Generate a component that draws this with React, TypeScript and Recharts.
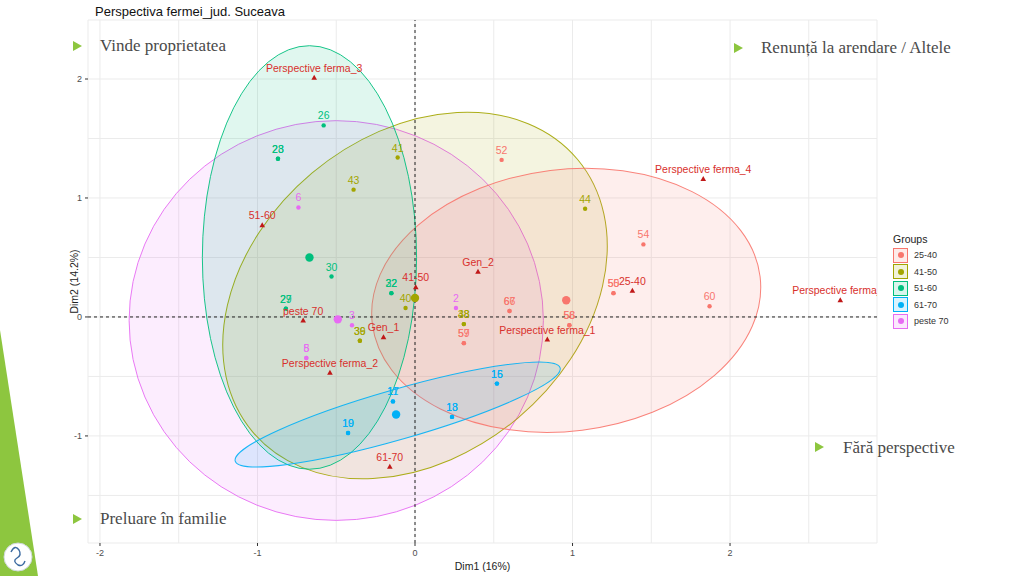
import React from "react";
import {
  ScatterChart,
  Scatter,
  XAxis,
  YAxis,
  CartesianGrid,
  ReferenceLine,
  ReferenceArea,
  Label,
} from "recharts";

const FONT = '"Liberation Sans", Arial, sans-serif';
const SERIF = '"Liberation Serif", "Times New Roman", serif';

const groups = ["25-40", "41-50", "51-60", "61-70", "peste 70"];
const groupColors: Record<string, string> = {
  "25-40": "#F8766D",
  "41-50": "#A3A500",
  "51-60": "#00BF7D",
  "61-70": "#00B0F6",
  "peste 70": "#E76BF3",
};

// individuals (Dim1, Dim2), some overlap exactly
const ind2540 = [
  { label: "52", x: 0.55, y: 1.32 },
  { label: "54", x: 1.45, y: 0.61 },
  { label: "50", x: 1.26, y: 0.2 },
  { label: "55", x: 1.26, y: 0.2 },
  { label: "60", x: 1.87, y: 0.09 },
  { label: "66", x: 0.6, y: 0.05 },
  { label: "67", x: 0.6, y: 0.05 },
  { label: "56", x: 0.98, y: -0.07 },
  { label: "58", x: 0.98, y: -0.07 },
  { label: "57", x: 0.31, y: -0.22 },
  { label: "59", x: 0.31, y: -0.22 },
];
const ind4150 = [
  { label: "41", x: -0.11, y: 1.34 },
  { label: "43", x: -0.39, y: 1.07 },
  { label: "44", x: 1.08, y: 0.91 },
  { label: "40", x: -0.06, y: 0.075 },
  { label: "38", x: 0.31, y: -0.06 },
  { label: "48", x: 0.31, y: -0.06 },
  { label: "36", x: -0.35, y: -0.2 },
  { label: "39", x: -0.35, y: -0.2 },
];
const ind5160 = [
  { label: "26", x: -0.58, y: 1.61 },
  { label: "28", x: -0.87, y: 1.33 },
  { label: "23", x: -0.87, y: 1.33 },
  { label: "30", x: -0.53, y: 0.34 },
  { label: "22", x: -0.15, y: 0.2 },
  { label: "32", x: -0.15, y: 0.2 },
  { label: "29", x: -0.82, y: 0.07 },
  { label: "27", x: -0.82, y: 0.07 },
];
const ind6170 = [
  { label: "16", x: 0.52, y: -0.56 },
  { label: "15", x: 0.52, y: -0.56 },
  { label: "17", x: -0.14, y: -0.71 },
  { label: "11", x: -0.14, y: -0.71 },
  { label: "18", x: 0.235, y: -0.84 },
  { label: "13", x: 0.235, y: -0.84 },
  { label: "19", x: -0.425, y: -0.975 },
  { label: "10", x: -0.425, y: -0.975 },
];
const indPeste70 = [
  { label: "6", x: -0.74, y: 0.92 },
  { label: "2", x: 0.26, y: 0.075 },
  { label: "3", x: -0.4, y: -0.07 },
  { label: "5", x: -0.69, y: -0.345 },
  { label: "8", x: -0.69, y: -0.345 },
];
const individuals: Record<string, { label: string; x: number; y: number }[]> = {
  "25-40": ind2540,
  "41-50": ind4150,
  "51-60": ind5160,
  "61-70": ind6170,
  "peste 70": indPeste70,
};

// group means
const centroids = [
  { group: "25-40", x: 0.96, y: 0.14 },
  { group: "41-50", x: 0.0, y: 0.16 },
  { group: "51-60", x: -0.67, y: 0.5 },
  { group: "61-70", x: -0.12, y: -0.82 },
  { group: "peste 70", x: -0.49, y: -0.02 },
];

// concentration ellipses: centre, half axes, tilt in degrees
const ellipses = [
  { group: "peste 70", x: -0.5, y: -0.03, rx: 1.315, ry: 1.68, tilt: 0 },
  { group: "41-50", x: 0.0, y: 0.18, rx: 1.346, ry: 1.345, tilt: 40 },
  { group: "25-40", x: 0.96, y: 0.14, rx: 1.24, ry: 1.1, tilt: 7 },
  { group: "51-60", x: -0.67, y: 0.5, rx: 0.68, ry: 1.78, tilt: 0 },
  { group: "61-70", x: -0.11, y: -0.82, rx: 1.073, ry: 0.21, tilt: 16 },
];

// supplementary variable categories
const categories = [
  { label: "Perspective ferma_3", x: -0.64, y: 2.01 },
  { label: "Perspective ferma_4", x: 1.83, y: 1.16 },
  { label: "Perspective ferma_1", x: 0.84, y: -0.19 },
  { label: "Perspective ferma_2", x: -0.54, y: -0.47 },
  { label: "Perspective ferma_5", x: 2.7, y: 0.14 },
  { label: "51-60", x: -0.97, y: 0.77 },
  { label: "41-50", x: 0.005, y: 0.25 },
  { label: "25-40", x: 1.38, y: 0.22 },
  { label: "61-70", x: -0.16, y: -1.26 },
  { label: "peste 70", x: -0.71, y: -0.03 },
  { label: "Gen_1", x: -0.2, y: -0.17 },
  { label: "Gen_2", x: 0.4, y: 0.38 },
];

const xTicks = [-2, -1.5, -1, -0.5, 0, 0.5, 1, 1.5, 2, 2.5];
const yTicks = [-1.5, -1, -0.5, 0, 0.5, 1, 1.5, 2];
const xDomain = [-2.076, 2.933];
const yDomain = [-1.9, 2.496];

const corners = [
  { text: "Vinde proprietatea", x: 100, y: 45, tx: 73, ty: 46 },
  { text: "Renunță la arendare / Altele", x: 761, y: 47, tx: 734, ty: 48 },
  { text: "Fără perspective", x: 843, y: 447, tx: 815, ty: 447 },
  { text: "Preluare în familie", x: 100, y: 518, tx: 73, ty: 519 },
];

const XTick = (props: any) => {
  const { x, y, payload } = props;
  const v = payload.value;
  if (!Number.isInteger(v)) return <g />;
  return (
    <g>
      <line x1={x} x2={x} y1={y - 6} y2={y - 3} stroke="#333" strokeWidth={1} />
      <text x={x} y={y} dy="0.8em" textAnchor="middle" fontSize={9} fill="#4d4d4d" fontFamily={FONT}>
        {v}
      </text>
    </g>
  );
};

const YTick = (props: any) => {
  const { x, y, payload } = props;
  const v = payload.value;
  if (!Number.isInteger(v)) return <g />;
  return (
    <g>
      <line x1={x + 3} x2={x + 6} y1={y} y2={y} stroke="#333" strokeWidth={1} />
      <text x={x} y={y} dy="0.35em" textAnchor="end" fontSize={9} fill="#4d4d4d" fontFamily={FONT}>
        {v}
      </text>
    </g>
  );
};

const ellipseShape = (color: string, tilt: number) => (props: any) => {
  const { x, y, width, height } = props;
  const cx = x + width / 2;
  const cy = y + height / 2;
  return (
    <ellipse
      cx={cx}
      cy={cy}
      rx={Math.abs(width) / 2}
      ry={Math.abs(height) / 2}
      transform={`rotate(${-tilt} ${cx} ${cy})`}
      fill={color}
      fillOpacity={0.12}
      stroke={color}
      strokeOpacity={0.9}
      strokeWidth={1}
    />
  );
};

const pointShape = (color: string) => (props: any) => {
  const { cx, cy, payload } = props;
  return (
    <g>
      <circle cx={cx} cy={cy} r={2.2} fill={color} />
      <text x={cx} y={cy - 6} textAnchor="middle" fontSize={10.5} fill={color} fontFamily={FONT}>
        {payload.label}
      </text>
    </g>
  );
};

const centroidShape = (props: any) => {
  const { cx, cy, payload } = props;
  return <circle cx={cx} cy={cy} r={4.2} fill={groupColors[payload.group]} />;
};

const categoryShape = (props: any) => {
  const { cx, cy, payload } = props;
  return (
    <g>
      <path d={`M${cx},${cy - 3} L${cx + 2.8},${cy + 2} L${cx - 2.8},${cy + 2} Z`} fill="#c01818" />
      <text x={cx} y={cy - 6} textAnchor="middle" fontSize={10.5} fill="#d8302c" fontFamily={FONT}>
        {payload.label}
      </text>
    </g>
  );
};

export default function App() {
  return (
    <div
      style={{
        position: "fixed",
        left: 0,
        top: 0,
        width: 1024,
        height: 576,
        background: "#fff",
        overflow: "hidden",
        fontFamily: FONT,
      }}
    >
      <svg width={1024} height={576} style={{ position: "absolute", left: 0, top: 0 }}>
        <polygon points="0,330 0,576 38,576" fill="#8dc63f" />
        <circle cx={18} cy={557} r={14} fill="#fff" stroke="#cfd8dc" />
        <path d="M11,552 q4,-8 8,-2 q3,5 -2,8 q-5,3 1,7 q5,2 7,-4" fill="none" stroke="#3b6aa0" strokeWidth={1.4} />
      </svg>

      <div style={{ position: "absolute", left: 95, top: 4, fontSize: 13, lineHeight: "16px", color: "#111" }}>
        Perspectiva fermei_jud. Suceava
      </div>

      <div style={{ position: "absolute", left: 0, top: 0 }}>
        <ScatterChart width={1024} height={576} margin={{ top: 20, right: 147, bottom: 13, left: 62 }}>
          <CartesianGrid stroke="#ebebeb" />
          <XAxis
            type="number"
            dataKey="x"
            domain={xDomain}
            ticks={xTicks}
            interval={0}
            allowDataOverflow
            axisLine={false}
            tickLine={false}
            tickSize={3}
            tickMargin={3}
            height={20}
            tick={XTick}
          >
            <Label
              content={(p: any) => {
                const vb = p.viewBox || { x: 88, y: 543, width: 789, height: 20 };
                return (
                  <text x={vb.x + vb.width / 2} y={vb.y + vb.height + 7} textAnchor="middle" fontSize={10.5} fill="#222" fontFamily={FONT}>
                    Dim1 (16%)
                  </text>
                );
              }}
            />
          </XAxis>
          <YAxis
            type="number"
            dataKey="y"
            domain={yDomain}
            ticks={yTicks}
            interval={0}
            allowDataOverflow
            axisLine={false}
            tickLine={false}
            tickSize={3}
            tickMargin={3}
            width={26}
            tick={YTick}
          >
            <Label
              content={(p: any) => {
                const vb = p.viewBox || { x: 62, y: 20, width: 26, height: 523 };
                const cx = vb.x + 12;
                const cy = vb.y + vb.height / 2;
                return (
                  <text transform={`translate(${cx},${cy}) rotate(-90)`} dy="0.35em" textAnchor="middle" fontSize={10.5} fill="#222" fontFamily={FONT}>
                    Dim2 (14.2%)
                  </text>
                );
              }}
            />
          </YAxis>

          {ellipses.map((e) => (
            <ReferenceArea
              key={"ell-" + e.group}
              x1={e.x - e.rx}
              x2={e.x + e.rx}
              y1={e.y - e.ry}
              y2={e.y + e.ry}
              ifOverflow="visible"
              shape={ellipseShape(groupColors[e.group], e.tilt)}
            />
          ))}

          <ReferenceLine x={0} stroke="#222" strokeDasharray="3 3" strokeWidth={1} ifOverflow="visible" />
          <ReferenceLine y={0} stroke="#222" strokeDasharray="3 3" strokeWidth={1} ifOverflow="visible" />

          {groups.map((g) => (
            <Scatter
              key={"ind-" + g}
              name={g}
              data={individuals[g]}
              shape={pointShape(groupColors[g])}
              isAnimationActive={false}
            />
          ))}
          <Scatter name="centroids" data={centroids} shape={centroidShape} isAnimationActive={false} />
          <Scatter name="categories" data={categories} shape={categoryShape} isAnimationActive={false} />
        </ScatterChart>
      </div>

      <div style={{ position: "absolute", left: 893, top: 232, fontSize: 10.5, color: "#222" }}>
        <div style={{ height: 15, lineHeight: "15px" }}>Groups</div>
        {groups.map((g) => (
          <div key={g} style={{ display: "flex", alignItems: "center", height: 16.5 }}>
            <div
              style={{
                width: 15,
                height: 15,
                boxSizing: "border-box",
                border: `1px solid ${groupColors[g]}`,
                background: groupColors[g] + "26",
                position: "relative",
              }}
            >
              <div
                style={{
                  position: "absolute",
                  left: 3.5,
                  top: 3.5,
                  width: 6,
                  height: 6,
                  borderRadius: 3,
                  background: groupColors[g],
                }}
              />
            </div>
            <span style={{ marginLeft: 6, fontSize: 9, color: "#333" }}>{g}</span>
          </div>
        ))}
      </div>

      <svg width={1024} height={576} style={{ position: "absolute", left: 0, top: 0, pointerEvents: "none" }}>
        {corners.map((c) => (
          <g key={c.text}>
            <polygon points={`${c.tx},${c.ty - 5} ${c.tx + 9},${c.ty} ${c.tx},${c.ty + 5}`} fill="#8dc63f" />
            <text x={c.x} y={c.y} dy="0.33em" fontSize={17} fill="#4a4a4a" fontFamily={SERIF}>
              {c.text}
            </text>
          </g>
        ))}
      </svg>
    </div>
  );
}
